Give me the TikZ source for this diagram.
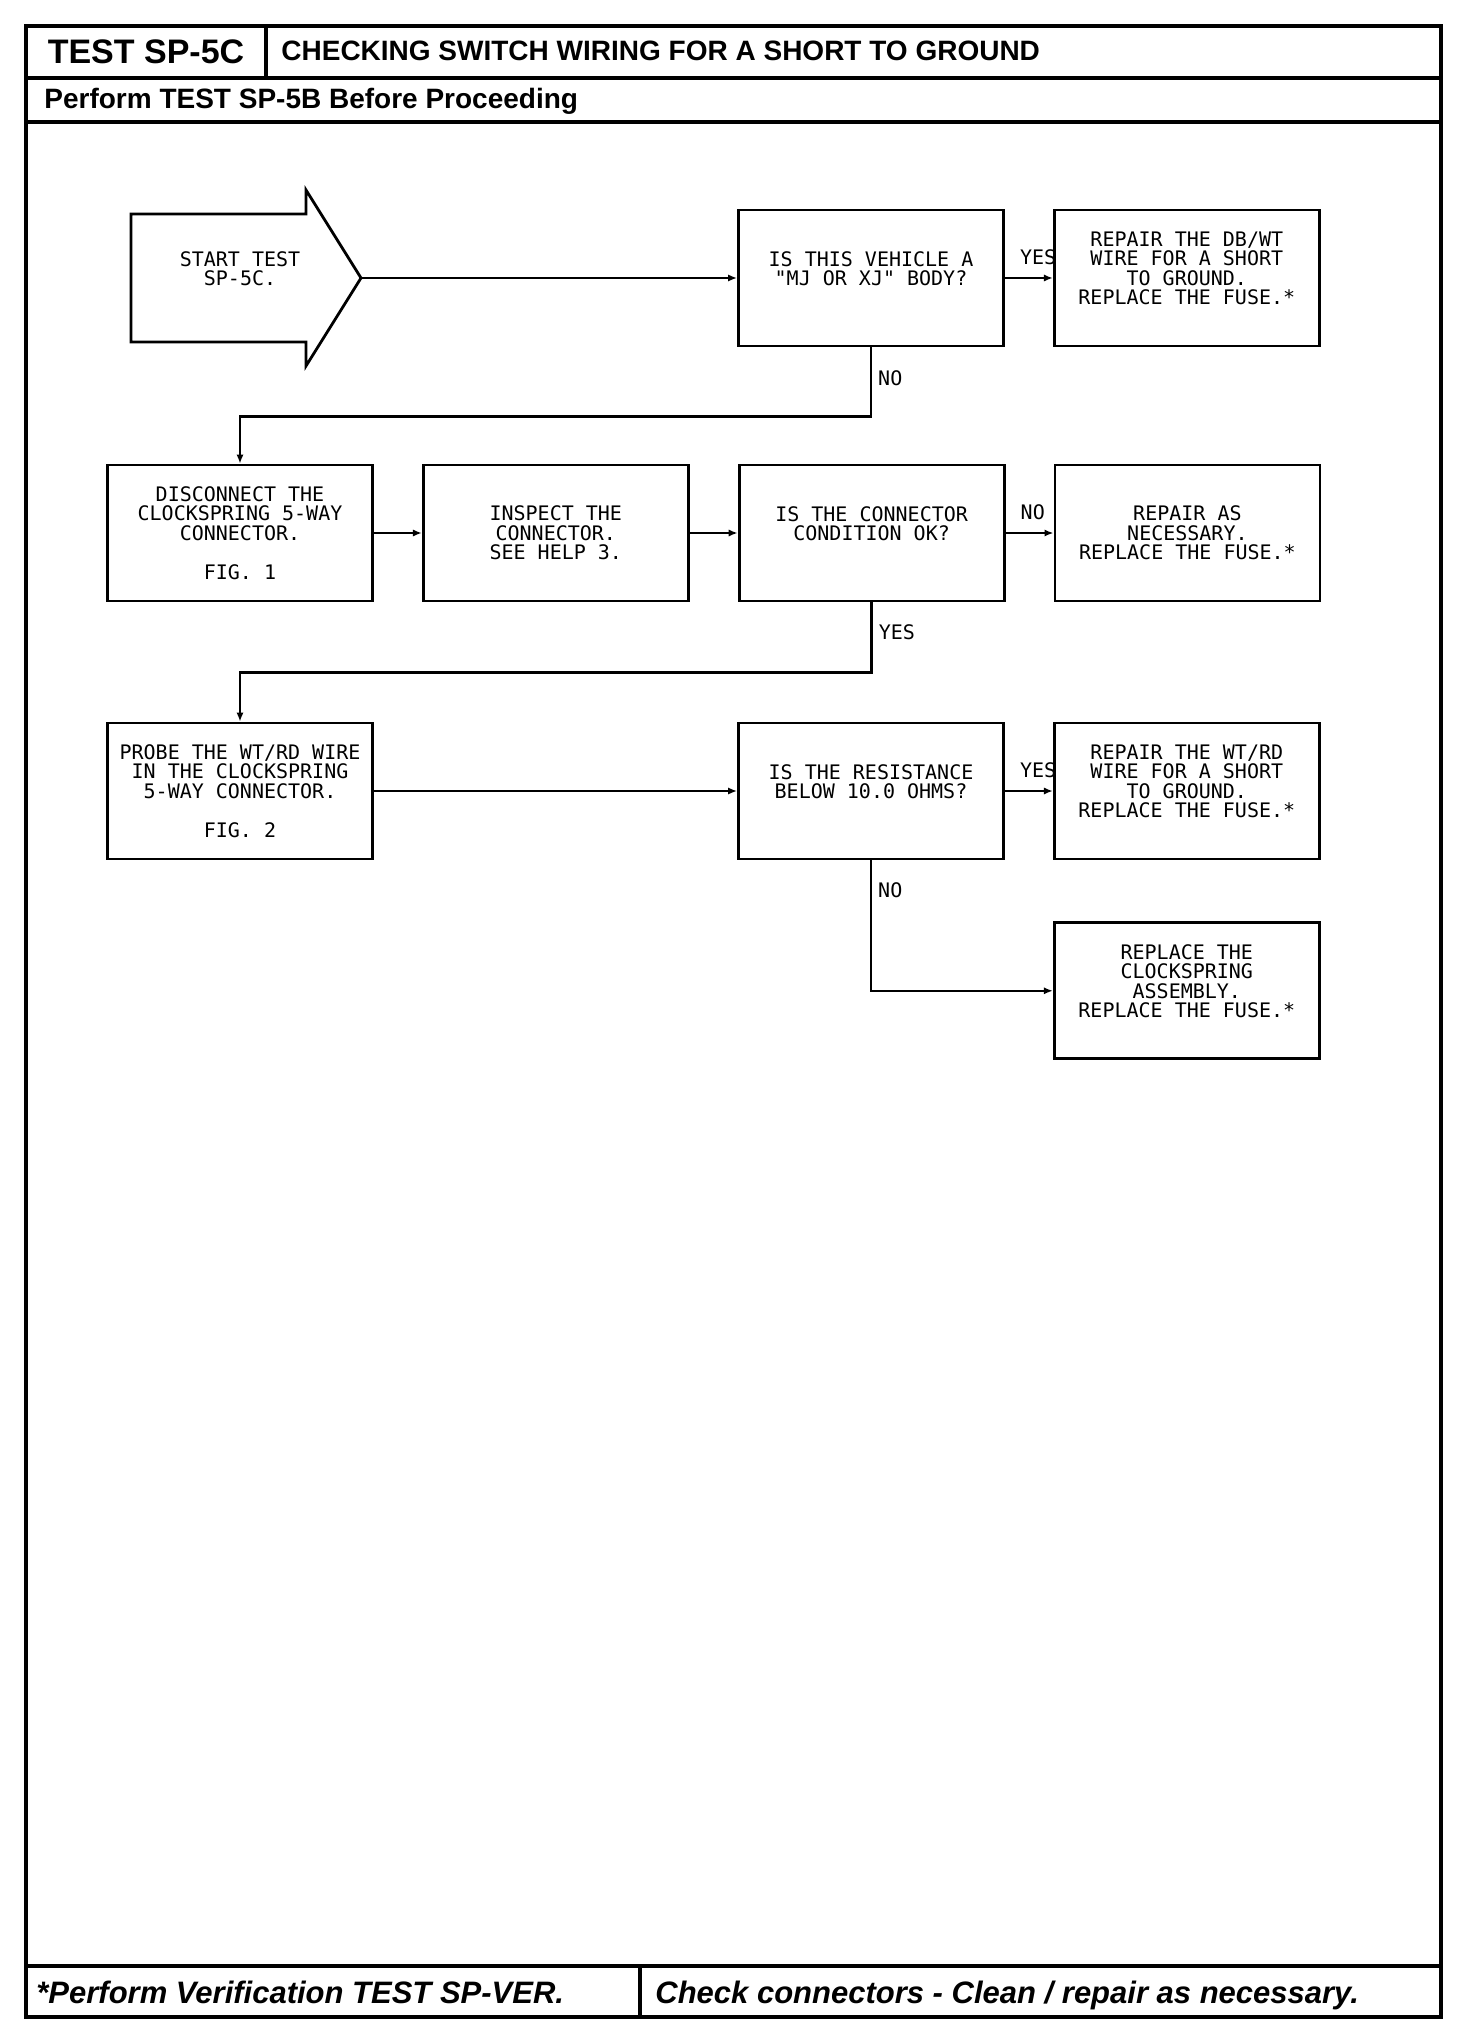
\documentclass[tikz,border=0pt]{standalone}
\usepackage{fontspec}
\usepackage{tikz}
\usetikzlibrary{arrows.meta,positioning,calc}
\newfontfamily\headfont{Liberation Sans}
\newfontfamily\plotfont{DejaVu Sans Mono}

\begin{document}
\begin{tikzpicture}[
  x=0.5pt,y=-0.5pt,
  node distance=25pt and 24pt,
  frame/.style={line width=1.8pt},
  rule/.style={line width=1.6pt},
  block/.style={draw,line width=1.4pt,minimum width=132.5pt,minimum height=68pt,
    align=center,inner sep=0pt,font=\plotfont\fontsize{10}{9.7}\selectfont},
  answer/.style={inner sep=0pt,font=\plotfont\fontsize{10}{9.7}\selectfont},
  side/.style={answer,pos=0,anchor=south west,xshift=7pt,yshift=6pt},
  branch/.style={answer,right=3pt},
  arrow/.style={-{Latex[length=4.5pt,width=3.6pt]},line width=1.2pt}
]
\useasboundingbox (0,0) rectangle (1456,2032);
\draw[frame] (26,26) rectangle (1441,2017);
\draw[rule] (26,78) -- (1441,78);
\draw[rule] (266,26) -- (266,78);
\draw[rule] (26,122) -- (1441,122);
\draw[rule] (26,1966) -- (1441,1966);
\draw[rule] (640,1966) -- (640,2017);
\node[anchor=base,inner sep=0pt,font=\headfont\bfseries\fontsize{17}{20}\selectfont] (testid) at (146,63.5) {TEST SP-5C};
\node[anchor=base west,inner sep=0pt,font=\headfont\bfseries\fontsize{14}{17}\selectfont] (title) at (281,61) {CHECKING SWITCH WIRING FOR A SHORT TO GROUND};
\node[anchor=base west,inner sep=0pt,font=\headfont\bfseries\fontsize{14}{17}\selectfont] (prereq) at (44,109) {Perform TEST SP-5B Before Proceeding};
\node[anchor=base west,inner sep=0pt,font=\headfont\bfseries\itshape\fontsize{15.5}{18}\selectfont] (verify) at (36,2003) {*Perform Verification TEST SP-VER.};
\node[anchor=base west,inner sep=0pt,font=\headfont\bfseries\itshape\fontsize{15.5}{18}\selectfont] (clean) at (655,2003) {Check connectors - Clean / repair as necessary.};

\coordinate (starttip) at (361,278);
\draw[line width=1.4pt] (131,214) -- (306,214) -- (306,190) -- (starttip) -- (306,366) -- (306,342) -- (131,342) -- cycle;
\node[answer,align=center] (start) at (240,278) {START TEST\\SP-5C.\\~};
\node[block] (q1) at (871,278) {IS THIS VEHICLE A\\"MJ OR XJ" BODY?\\~};
\node[block,right=of q1] (r1) {REPAIR THE DB/WT\\WIRE FOR A SHORT\\TO GROUND.\\REPLACE THE FUSE.*\\~};
\node[block] (d1) at (240,533) {DISCONNECT THE\\CLOCKSPRING 5-WAY\\CONNECTOR.\\[9.7pt]FIG. 1};
\node[block,right=of d1] (inspect) {INSPECT THE\\CONNECTOR.\\SEE HELP 3.};
\node[block,right=of inspect] (q2) {IS THE CONNECTOR\\CONDITION OK?\\~};
\node[block,right=of q2] (r2) {REPAIR AS\\NECESSARY.\\REPLACE THE FUSE.*};
\node[block] (probe) at (240,791) {PROBE THE WT/RD WIRE\\IN THE CLOCKSPRING\\5-WAY CONNECTOR.\\[9.7pt]FIG. 2};
\node[block] (q3) at (871,791) {IS THE RESISTANCE\\BELOW 10.0 OHMS?\\~};
\node[block,right=of q3] (r3) {REPAIR THE WT/RD\\WIRE FOR A SHORT\\TO GROUND.\\REPLACE THE FUSE.*\\~};
\node[block,below=30.5pt of r3] (r4) {REPLACE THE\\CLOCKSPRING\\ASSEMBLY.\\REPLACE THE FUSE.*\\~};

\draw[arrow] (starttip) -- (q1.west);
\draw[arrow] (q1) -- node[side]{YES} (r1);
\draw[arrow] (q1.south) -- node[branch,pos=.44]{NO} ++(0,69) -| (d1.north);
\draw[arrow] (d1) -- (inspect);
\draw[arrow] (inspect) -- (q2);
\draw[arrow] (q2) -- node[side]{NO} (r2);
\draw[arrow] (q2.south) -- node[branch,pos=.43]{YES} ++(0,70) -| (probe.north);
\draw[arrow] (probe) -- (q3);
\draw[arrow] (q3) -- node[side]{YES} (r3);
\draw[arrow] (q3.south) |- node[branch,pos=.115]{NO} (r4.west);
\end{tikzpicture}
\end{document}
